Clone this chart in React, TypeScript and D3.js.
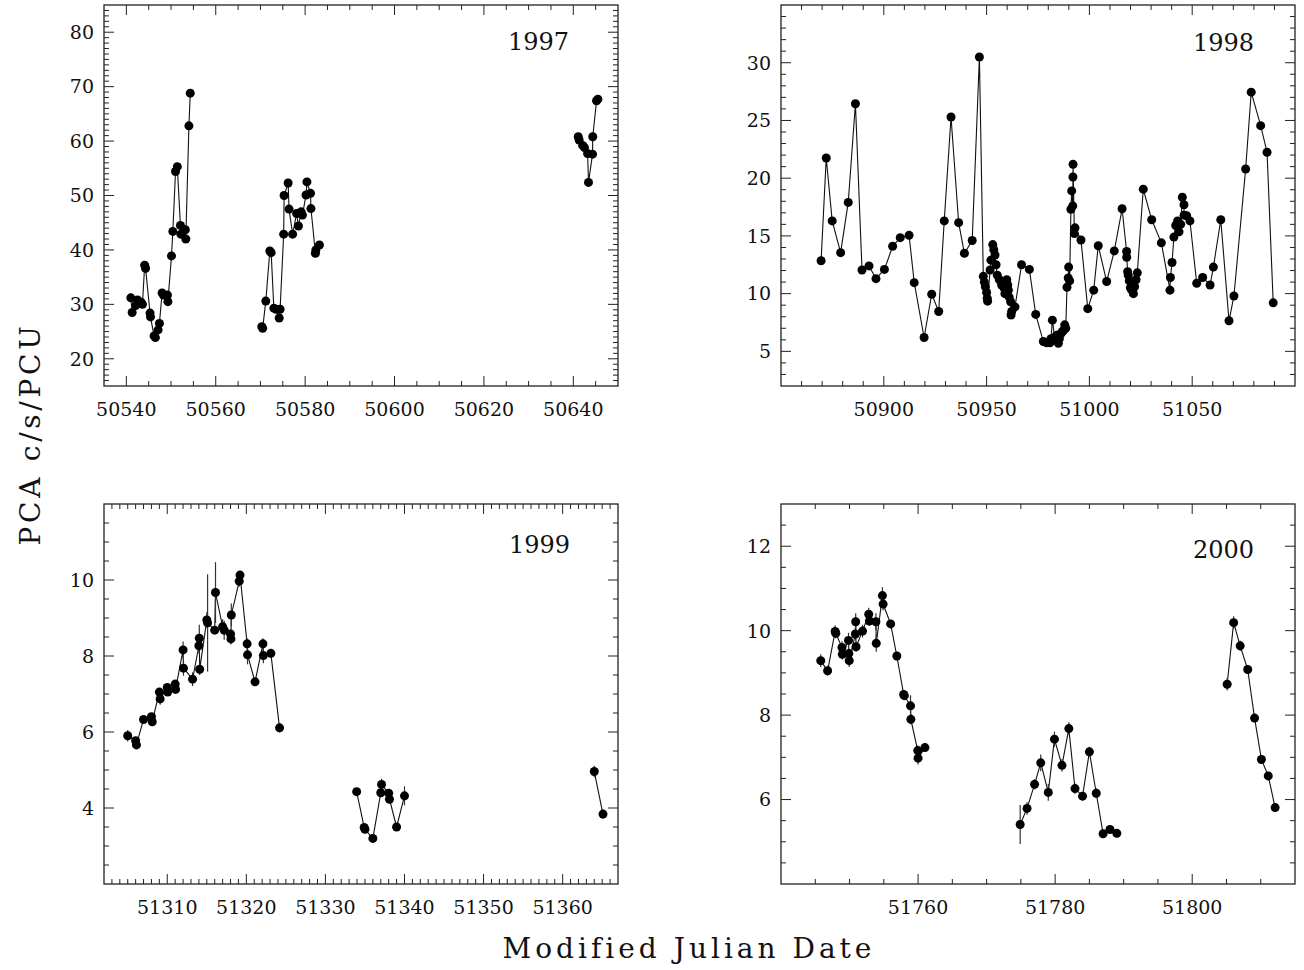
import React from 'react';
import * as d3 from 'd3';

// ---------------- DATA ----------------
const mjd1997 = [
  50541.0, 50541.3, 50542.1, 50542.5, 50543.3, 50543.6, 50544.1, 50544.3, 50545.3, 50545.4,
  50546.2, 50546.5, 50547.1, 50547.4, 50548.0, 50548.3, 50549.2, 50549.3, 50550.1, 50550.4,
  50551.0, 50551.4, 50552.1, 50552.2, 50553.2, 50553.3, 50554.0, 50554.3,
  50570.3, 50570.5, 50571.2, 50572.1, 50572.4, 50573.0, 50573.5, 50574.2, 50574.4, 50575.2,
  50575.3, 50576.2, 50576.4, 50577.2, 50578.1, 50578.5, 50579.1, 50579.4, 50580.2, 50580.4,
  50581.2, 50581.3, 50582.3, 50582.4, 50583.2,
  50641.1, 50641.3, 50642.1, 50642.5, 50643.2, 50643.4, 50644.3, 50644.35, 50645.2, 50645.5,
];
const rate1997 = [
  31.2, 28.5, 29.8, 30.8, 30.4, 30.0, 37.2, 36.6, 28.4, 27.7,
  24.2, 23.9, 25.3, 26.5, 32.1, 31.7, 31.7, 30.5, 38.9, 43.4,
  54.4, 55.3, 44.5, 42.9, 43.7, 42.0, 62.8, 68.8,
  25.9, 25.6, 30.6, 39.8, 39.5, 29.3, 29.1, 27.5, 29.1, 42.9,
  50.0, 52.3, 47.5, 42.9, 46.7, 44.4, 47.0, 46.4, 50.1, 52.5,
  50.4, 47.6, 39.4, 40.0, 40.9,
  60.8, 60.2, 59.2, 58.8, 57.7, 52.4, 57.6, 60.8, 67.4, 67.7,
];

const mjd1998 = [
  50869.5, 50872.0, 50874.9, 50879.0, 50882.7, 50886.2, 50889.4, 50892.8, 50896.2, 50900.3,
  50904.3, 50908.0, 50912.3, 50914.8, 50919.6, 50923.3, 50926.7, 50929.4, 50932.7, 50936.4,
  50939.2, 50943.0, 50946.5, 50948.4, 50948.9, 50949.4, 50950.0, 50950.3, 50950.5, 50951.7,
  50952.1, 50953.0, 50953.5, 50954.1, 50954.6, 50955.2, 50956.2, 50957.3, 50958.6, 50958.9,
  50959.8, 50960.3, 50960.6, 50961.0, 50961.7, 50961.9, 50962.2, 50963.8, 50967.0, 50970.8,
  50973.9, 50977.6, 50979.2, 50980.8, 50981.3, 50982.0, 50983.1, 50984.1, 50984.9, 50985.4,
  50986.2, 50986.8, 50987.5, 50988.0, 50988.5, 50989.1, 50989.7, 50989.9, 50990.4, 50991.0,
  50991.4, 50991.9, 50992.0, 50992.05, 50992.7, 50993.0, 50995.9, 50999.2, 51002.1, 51004.3,
  51008.4, 51012.1, 51015.9, 51018.1, 51018.15, 51018.6, 51018.9, 51019.4, 51019.9, 51020.6,
  51021.4, 51022.0, 51022.7, 51023.3, 51026.2, 51030.3, 51035.0, 51039.2, 51039.4, 51040.2,
  51041.1, 51042.0, 51042.9, 51043.6, 51044.4, 51045.2, 51046.0, 51046.05, 51047.3, 51048.9,
  51052.2, 51055.1, 51058.7, 51060.3, 51063.9, 51067.9, 51070.3, 51076.0, 51078.7, 51083.3,
  51086.4, 51089.4,
];
const rate1998 = [
  12.85, 21.75, 16.3, 13.55, 17.9, 26.45, 12.05, 12.4, 11.3, 12.1,
  14.1, 14.85, 15.05, 10.95, 6.2, 9.95, 8.45, 16.3, 25.3, 16.15,
  13.5, 14.6, 30.5, 11.5, 11.0, 10.6, 10.1, 9.6, 9.35, 12.05,
  12.9, 14.25, 13.8, 13.35, 12.5, 11.6, 11.2, 10.75, 10.45, 10.0,
  11.2, 10.75, 10.3, 9.7, 9.3, 8.15, 8.45, 8.85, 12.5, 12.1,
  8.2, 5.85, 5.75, 5.75, 6.1, 7.7, 6.2, 6.4, 5.7, 6.1,
  6.55, 6.7, 6.85, 7.3, 7.0, 10.55, 11.35, 12.3, 11.1, 17.3,
  18.9, 17.6, 20.1, 21.2, 15.2, 15.7, 14.65, 8.7, 10.3, 14.15,
  11.05, 13.7, 17.35, 13.65, 13.15, 11.9, 11.6, 11.1, 10.5, 10.3,
  10.0, 10.6, 11.2, 11.8, 19.05, 16.4, 14.4, 10.3, 11.4, 12.7,
  14.9, 15.9, 16.3, 15.35, 16.0, 18.35, 17.7, 16.8, 16.75, 16.3,
  10.9, 11.4, 10.75, 12.3, 16.4, 7.65, 9.8, 20.8, 27.45, 24.55,
  22.25, 9.2,
];

const mjd1999 = [
  51305.0, 51306.0, 51306.1, 51307.0, 51308.0, 51308.1, 51309.0, 51309.1, 51310.0, 51310.05,
  51311.0, 51311.05, 51312.0, 51312.05, 51313.2, 51314.0, 51314.05, 51314.1, 51315.0, 51315.1,
  51316.0, 51316.1, 51317.0, 51317.2, 51318.0, 51318.05, 51318.1, 51319.1, 51319.2, 51320.1,
  51320.15, 51321.1, 51322.1, 51322.15, 51323.1, 51324.2,
  51333.95, 51334.9, 51335.0, 51336.0, 51337.0, 51337.1, 51338.0, 51338.1, 51339.0, 51340.0,
  51364.0, 51365.1,
];
const rate1999 = [
  5.90, 5.77, 5.66, 6.33, 6.40, 6.27, 7.05, 6.87, 7.17, 7.05,
  7.26, 7.12, 8.16, 7.68, 7.39, 8.27, 8.47, 7.65, 8.95, 8.87,
  8.68, 9.67, 8.77, 8.68, 8.58, 8.45, 9.08, 9.97, 10.13, 8.32,
  8.03, 7.32, 8.32, 8.01, 8.07, 6.11,
  4.43, 3.49, 3.44, 3.20, 4.40, 4.62, 4.39, 4.23, 3.50, 4.32,
  4.96, 3.84,
];
const err1999 = [
  0.15, 0.08, 0.08, 0.08, 0.10, 0.10, 0.10, 0.15, 0.10, 0.10,
  0.10, 0.10, 0.22, 0.20, 0.18, 0.20, 0.35, 0.15, 0.20, 1.28,
  0.10, 0.80, 0.20, 0.25, 0.10, 0.15, 0.30, 0.15, 0.10, 0.15,
  0.25, 0.10, 0.15, 0.20, 0.10, 0.12,
  0.08, 0.10, 0.10, 0.08, 0.10, 0.15, 0.10, 0.10, 0.10, 0.25,
  0.15, 0.12,
];

const mjd2000 = [
  51745.8, 51746.8, 51747.9, 51748.0, 51748.9, 51748.95, 51749.85, 51749.9, 51749.95, 51750.85,
  51750.9, 51750.95, 51751.9, 51752.8, 51752.9, 51753.85, 51753.9, 51754.8, 51754.9, 51756.0,
  51756.9, 51757.9, 51758.0, 51758.9, 51758.95, 51759.95, 51760.0, 51761.0,
  51774.9, 51775.9, 51777.0, 51777.9, 51779.0, 51779.9, 51781.0, 51782.0, 51782.9, 51784.0,
  51785.0, 51786.0, 51787.0, 51788.0, 51789.0,
  51805.1, 51806.05, 51807.0, 51808.1, 51809.1, 51810.1, 51811.1, 51812.1,
];
const rate2000 = [
  9.29, 9.05, 9.98, 9.94, 9.60, 9.44, 9.77, 9.46, 9.29, 9.92,
  10.21, 9.62, 9.99, 10.39, 10.23, 10.21, 9.70, 10.83, 10.63, 10.16,
  9.40, 8.49, 8.46, 8.22, 7.90, 7.16, 6.98, 7.23,
  5.41, 5.79, 6.36, 6.87, 6.17, 7.43, 6.81, 7.68, 6.26, 6.08,
  7.13, 6.15, 5.19, 5.29, 5.20,
  8.73, 10.19, 9.64, 9.08, 7.93, 6.95, 6.56, 5.81,
];
const err2000 = [
  0.15, 0.12, 0.15, 0.12, 0.15, 0.12, 0.18, 0.12, 0.15, 0.15,
  0.20, 0.12, 0.15, 0.15, 0.12, 0.20, 0.20, 0.20, 0.15, 0.10,
  0.10, 0.10, 0.10, 0.25, 0.12, 0.12, 0.15, 0.10,
  0.46, 0.15, 0.12, 0.20, 0.20, 0.18, 0.15, 0.15, 0.12, 0.10,
  0.12, 0.12, 0.08, 0.08, 0.08,
  0.15, 0.15, 0.12, 0.10, 0.10, 0.10, 0.10, 0.10,
];

const yearLabels = ['1997', '1998', '1999', '2000'];
const xTitle = 'Modified Julian Date';
const yTitle = 'PCA c/s/PCU';

// ---------------- LAYOUT ----------------
type Cfg = {
  label: string;
  mjd: number[];
  rate: number[];
  err?: number[];
  left: number; top: number; w: number; h: number;
  xDomain: [number, number]; yDomain: [number, number];
  xMajor: number; xMinor: number; yMajor: number; yMinor: number;
  labelRight: number; labelBase: number;
};

const FONT = '"DejaVu Serif", serif';
const GAP = 7;

const panels: Cfg[] = [
  { label: yearLabels[0], mjd: mjd1997, rate: rate1997, left: 104, top: 5, w: 514, h: 381,
    xDomain: [50535, 50650], yDomain: [15, 85], xMajor: 20, xMinor: 5, yMajor: 10, yMinor: 1,
    labelRight: 49, labelBase: 45 },
  { label: yearLabels[1], mjd: mjd1998, rate: rate1998, left: 781, top: 5, w: 514, h: 381,
    xDomain: [50850, 51100], yDomain: [2, 35], xMajor: 50, xMinor: 10, yMajor: 5, yMinor: 1,
    labelRight: 41, labelBase: 46 },
  { label: yearLabels[2], mjd: mjd1999, rate: rate1999, err: err1999, left: 104, top: 504, w: 514, h: 380,
    xDomain: [51302, 51367], yDomain: [2, 12], xMajor: 10, xMinor: 1, yMajor: 2, yMinor: 0.5,
    labelRight: 48, labelBase: 49 },
  { label: yearLabels[3], mjd: mjd2000, rate: rate2000, err: err2000, left: 781, top: 504, w: 514, h: 380,
    xDomain: [51740, 51815], yDomain: [4, 13], xMajor: 20, xMinor: 5, yMajor: 2, yMinor: 0.5,
    labelRight: 41, labelBase: 54 },
];

function ticksFor(d: [number, number], step: number) {
  const out: number[] = [];
  const start = Math.ceil(d[0] / step - 1e-9);
  const end = Math.floor(d[1] / step + 1e-9);
  for (let i = start; i <= end; i++) out.push(+(i * step).toFixed(6));
  return out;
}
const isMajor = (v: number, m: number) => Math.abs(v / m - Math.round(v / m)) < 1e-6;
const inside = (v: number, d: [number, number]) => v > d[0] + 1e-6 && v < d[1] - 1e-6;

function Panel({ c }: { c: Cfg }) {
  const x = d3.scaleLinear().domain(c.xDomain).range([c.left, c.left + c.w]);
  const y = d3.scaleLinear().domain(c.yDomain).range([c.top + c.h, c.top]);
  const pts = c.mjd.map((t, i) => ({ t, v: c.rate[i], e: c.err ? c.err[i] : 0 }));
  const segs: typeof pts[] = [];
  let cur: typeof pts = [];
  pts.forEach((p, i) => {
    if (i > 0 && p.t - pts[i - 1].t > GAP) { segs.push(cur); cur = []; }
    cur.push(p);
  });
  segs.push(cur);
  const line = d3.line<{ t: number; v: number }>().x(d => x(d.t)).y(d => y(d.v));
  const xt = ticksFor(c.xDomain, c.xMinor).filter(t => inside(t, c.xDomain));
  const yt = ticksFor(c.yDomain, c.yMinor).filter(t => inside(t, c.yDomain));
  const bottom = c.top + c.h;
  const right = c.left + c.w;
  const MJ = 10, MN = 5;
  return (
    <g>
      {xt.map((t, i) => {
        const L = isMajor(t, c.xMajor) ? MJ : MN;
        const px = x(t);
        return (
          <g key={'x' + i}>
            <line x1={px} x2={px} y1={bottom} y2={bottom - L} stroke="#222" strokeWidth={1} />
            <line x1={px} x2={px} y1={c.top} y2={c.top + L} stroke="#222" strokeWidth={1} />
          </g>
        );
      })}
      {yt.map((t, i) => {
        const L = isMajor(t, c.yMajor) ? MJ : MN;
        const py = y(t);
        return (
          <g key={'y' + i}>
            <line x1={c.left} x2={c.left + L} y1={py} y2={py} stroke="#222" strokeWidth={1} />
            <line x1={right} x2={right - L} y1={py} y2={py} stroke="#222" strokeWidth={1} />
          </g>
        );
      })}
      {xt.filter(t => isMajor(t, c.xMajor)).map((t, i) => (
        <text key={'xl' + i} x={x(t)} y={bottom + 30} textAnchor="middle"
          fontFamily={FONT} fontSize={19} fill="#111">{t}</text>
      ))}
      {yt.filter(t => isMajor(t, c.yMajor)).map((t, i) => (
        <text key={'yl' + i} x={c.left - 10} y={y(t)} dy="0.36em" textAnchor="end"
          fontFamily={FONT} fontSize={19} fill="#111">{t}</text>
      ))}
      <rect x={c.left} y={c.top} width={c.w} height={c.h} fill="none" stroke="#222" strokeWidth={1.3} />
      {segs.map((s, i) => (
        <path key={'s' + i} d={line(s) || ''} fill="none" stroke="#111" strokeWidth={1.1} />
      ))}
      {pts.filter(p => p.e > 0).map((p, i) => (
        <line key={'e' + i} x1={x(p.t)} x2={x(p.t)} y1={y(p.v - p.e)} y2={y(p.v + p.e)}
          stroke="#333" strokeWidth={1.2} />
      ))}
      {pts.map((p, i) => (
        <circle key={'p' + i} cx={x(p.t)} cy={y(p.v)} r={4.5} fill="#000" />
      ))}
      <text x={right - c.labelRight} y={c.top + c.labelBase} textAnchor="end"
        fontFamily={FONT} fontSize={24} fill="#111">{c.label}</text>
    </g>
  );
}

export default function App() {
  return (
    <svg width={1304} height={970} style={{ position: 'absolute', left: 0, top: 0, background: '#fff' }}>
      <rect x={0} y={0} width={1304} height={970} fill="#fff" />
      {panels.map((c, i) => <Panel key={i} c={c} />)}
      <text x={689} y={958} textAnchor="middle" fontFamily={FONT} fontSize={28}
        letterSpacing={4} fill="#111">{xTitle}</text>
      <text transform="translate(40,434) rotate(-90)" textAnchor="middle" fontFamily={FONT}
        fontSize={28} letterSpacing={3.7} fill="#111">{yTitle}</text>
    </svg>
  );
}
